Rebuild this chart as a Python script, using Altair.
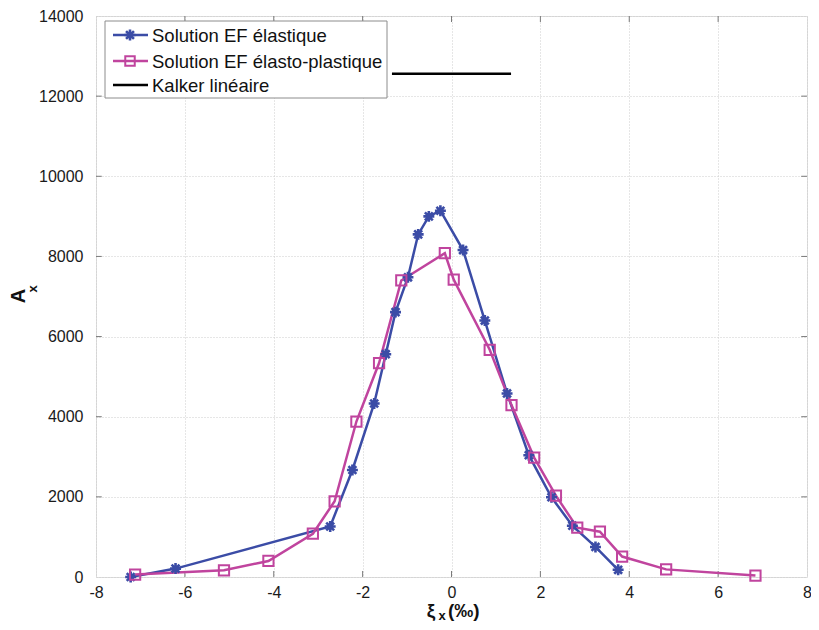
import altair as alt
import pandas as pd

# ---- data ----
elastic_x = [-7.22, -6.21, -2.73, -2.23, -1.74, -1.48, -1.26, -0.98, -0.75, -0.51,
             -0.25, 0.26, 0.75, 1.25, 1.74, 2.25, 2.72, 3.24, 3.75]
elastic_y = [0, 210, 1260, 2670, 4330, 5560, 6610, 7480, 8550, 9000,
             9140, 8160, 6400, 4580, 3040, 1990, 1280, 750, 180]

plastic_x = [-7.12, -5.12, -4.12, -3.12, -2.63, -2.14, -1.63, -1.13, -0.15, 0.05,
             0.86, 1.35, 1.86, 2.35, 2.83, 3.34, 3.84, 4.83, 6.84]
plastic_y = [60, 166, 400, 1080, 1890, 3880, 5340, 7400, 8080, 7420,
             5670, 4290, 2980, 2030, 1230, 1130, 510, 190, 35]

kalker_x = [-1.34, 1.34]
kalker_y = [12560, 12560]

x_ticks = [-8, -6, -4, -2, 0, 2, 4, 6, 8]
y_ticks = [0, 2000, 4000, 6000, 8000, 10000, 12000, 14000]

names = ["Solution EF élastique", "Solution EF élasto-plastique", "Kalker linéaire"]
colors = ["#3b4ca6", "#c0449e", "#000000"]

BLUE, PINK = colors[0], colors[1]
FONT = "Liberation Sans"
STAR = "M-1,0H1M0,-1V1M-0.72,-0.72L0.72,0.72M-0.72,0.72L0.72,-0.72"

el = pd.DataFrame({"x": elastic_x, "y": elastic_y, "i": range(len(elastic_x))})
pl = pd.DataFrame({"x": plastic_x, "y": plastic_y, "i": range(len(plastic_x))})
ka = pd.DataFrame({"x": kalker_x, "y": kalker_y, "i": range(len(kalker_x))})

xs = alt.Scale(domain=[-8, 8], nice=False, zero=False)
ys = alt.Scale(domain=[0, 14000], nice=False, zero=False)

xaxis = alt.Axis(values=x_ticks, grid=True, gridDash=[1, 2], gridColor="#cccccc",
                 ticks=False, domain=False, labelFont=FONT, labelFontSize=16,
                 labelColor="#1a1a1a", labelPadding=7, title=None, labelFlush=False,
                 labelExpr="'' + datum.value")
yaxis = alt.Axis(values=y_ticks, grid=True, gridDash=[1, 2], gridColor="#cccccc",
                 ticks=False, domain=False, labelFont=FONT, labelFontSize=16,
                 labelColor="#1a1a1a", labelPadding=13, title=None, labelFlush=False,
                 labelExpr="'' + datum.value")

one = alt.Data(values=[{}])

# grid/axes carrier
base = alt.Chart(el).mark_point(opacity=0).encode(
    x=alt.X("x:Q", scale=xs, axis=xaxis),
    y=alt.Y("y:Q", scale=ys, axis=yaxis),
)

# inward ticks (MATLAB style)
xt = pd.DataFrame({"t": x_ticks[1:-1]})
yt = pd.DataFrame({"t": y_ticks[1:-1]})
tick_style = dict(color="#7a7a7a", strokeWidth=1)
tb = alt.Chart(xt).mark_rule(**tick_style).encode(x="t:Q", y=alt.datum(0), y2=alt.datum(150))
tt = alt.Chart(xt).mark_rule(**tick_style).encode(x="t:Q", y=alt.datum(14000), y2=alt.datum(13850))
tl = alt.Chart(yt).mark_rule(**tick_style).encode(y="t:Q", x=alt.datum(-8), x2=alt.datum(-7.87))
tr = alt.Chart(yt).mark_rule(**tick_style).encode(y="t:Q", x=alt.datum(8), x2=alt.datum(7.87))

def series_line(df, color):
    return alt.Chart(df).mark_line(color=color, strokeWidth=2.5).encode(
        x=alt.X("x:Q", scale=xs), y=alt.Y("y:Q", scale=ys), order="i:Q")

el_line = series_line(el, BLUE)
pl_line = series_line(pl, PINK)
ka_line = series_line(ka, "#000000")

el_pts = alt.Chart(el).mark_point(shape=STAR, filled=False, color=BLUE, strokeWidth=2.6,
                                  size=120, opacity=1).encode(
    x=alt.X("x:Q", scale=xs), y=alt.Y("y:Q", scale=ys))
pl_pts = alt.Chart(pl).mark_point(shape="square", filled=False, color=PINK, strokeWidth=2,
                                  size=105, opacity=1).encode(
    x=alt.X("x:Q", scale=xs), y=alt.Y("y:Q", scale=ys))

# ---- legend (drawn by hand, MATLAB style) ----
leg_box = alt.Chart(one).mark_rect(fill="white", stroke="#8c8c8c", strokeWidth=1).encode(
    x=alt.value(9), x2=alt.value(291), y=alt.value(5), y2=alt.value(82))
leg_layers = [leg_box]
rows_y = [19, 45, 69]
for k, (nm, col) in enumerate(zip(names, colors)):
    yy = rows_y[k]
    leg_layers.append(alt.Chart(one).mark_rule(color=col, strokeWidth=2.5).encode(
        x=alt.value(17), x2=alt.value(52), y=alt.value(yy)))
    if k == 0:
        leg_layers.append(alt.Chart(one).mark_point(shape=STAR, filled=False, color=col,
                                                    strokeWidth=2.6, size=120, opacity=1).encode(
            x=alt.value(34), y=alt.value(yy)))
    elif k == 1:
        leg_layers.append(alt.Chart(one).mark_point(shape="square", filled=False, color=col,
                                                    strokeWidth=2, size=90, opacity=1).encode(
            x=alt.value(34), y=alt.value(yy)))
    leg_layers.append(alt.Chart(one).mark_text(align="left", baseline="middle", font=FONT,
                                               fontSize=18.5, color="#111111").encode(
        x=alt.value(56), y=alt.value(yy + 1), text=alt.value(nm)))

# ---- axis titles with subscripts ----
ttl = dict(font=FONT, fontWeight="bold", color="#111111")
y_title = alt.Chart(one).mark_text(angle=270, align="center", baseline="middle",
                                   fontSize=20, **ttl).encode(
    x=alt.value(-77), y=alt.value(280), text=alt.value("A"))
y_sub = alt.Chart(one).mark_text(angle=270, align="center", baseline="middle",
                                 fontSize=13, **ttl).encode(
    x=alt.value(-63), y=alt.value(273), text=alt.value("x"))
x_title = alt.Chart(one).mark_text(align="center", baseline="middle",
                                   fontSize=19, **ttl).encode(
    x=alt.value(335), y=alt.value(595), text=alt.value("ξ"))
x_sub = alt.Chart(one).mark_text(align="center", baseline="middle",
                                 fontSize=13, **ttl).encode(
    x=alt.value(346), y=alt.value(600), text=alt.value("x"))
x_unit = alt.Chart(one).mark_text(align="left", baseline="middle",
                                  fontSize=19, **ttl).encode(
    x=alt.value(352), y=alt.value(595), text=alt.value("(‰)"))

chart = alt.layer(
    base, tb, tt, tl, tr, ka_line, el_line, pl_line, el_pts, pl_pts,
    *leg_layers, y_title, y_sub, x_title, x_sub, x_unit
).properties(
    width=711, height=561,
    autosize=alt.AutoSizeParams(type="none"),
    padding={"left": 88, "top": 8, "right": 4, "bottom": 45},
).configure_view(
    stroke="#8a8a8a", strokeWidth=1
).configure(background="white")

chart.save("out.html", embed_options={"renderer": "svg", "actions": False})
